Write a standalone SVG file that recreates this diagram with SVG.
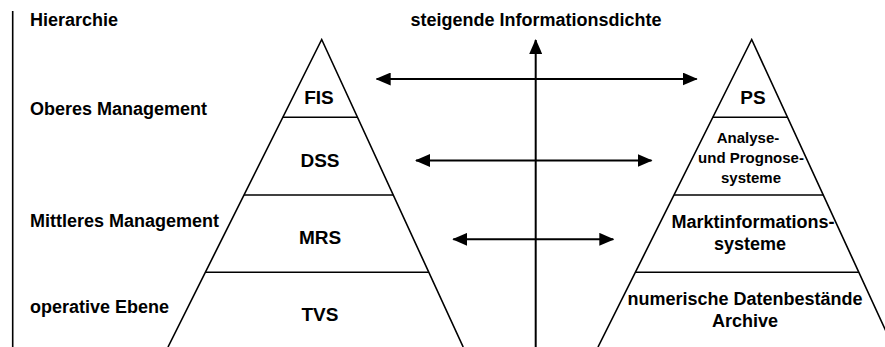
<svg xmlns="http://www.w3.org/2000/svg" width="885" height="347" viewBox="0 0 885 347">
<defs>
<style>
text{font-family:"Liberation Sans",Arial,sans-serif;font-weight:bold;font-size:18px;fill:#000}
.sm{font-size:15px}
.nd{font-size:19px}
.c{text-anchor:middle}
.ln{stroke:#000;stroke-width:1.6;fill:none}
.ar{stroke:#000;stroke-width:2;fill:none}
</style>
<marker id="ah" viewBox="0 0 15 13" markerWidth="15" markerHeight="13" markerUnits="userSpaceOnUse" refX="14" refY="6.5" orient="auto-start-reverse">
<path d="M0,0 L15,6.5 L0,13 z" fill="#000"/>
</marker>
</defs>
<rect width="885" height="347" fill="#fff"/>
<g id="axis-left">
<line class="ln" x1="12.7" y1="11" x2="12.7" y2="347"/>
<text x="30" y="26">Hierarchie</text>
<text x="30" y="115">Oberes Management</text>
<text x="30" y="227">Mittleres Management</text>
<text x="30" y="313">operative Ebene</text>
</g>
<g id="pyramid-left">
<path class="ln" d="M168,347 L321.7,39.5 L463.2,347"/>
<line class="ln" x1="282.8" y1="117.3" x2="357.5" y2="117.3"/>
<line class="ln" x1="244" y1="195" x2="393.2" y2="195"/>
<line class="ln" x1="205.3" y1="272.3" x2="429" y2="272.3"/>
</g>
<g id="FIS"><text class="c nd" x="319" y="104">FIS</text></g>
<g id="DSS"><text class="c nd" x="320" y="167">DSS</text></g>
<g id="MRS"><text class="c nd" x="320" y="244">MRS</text></g>
<g id="TVS"><text class="c nd" x="320" y="321">TVS</text></g>
<g id="pyramid-right">
<path class="ln" d="M598,347 L751.7,39.5 L893.2,347"/>
<line class="ln" x1="712.8" y1="117.3" x2="787.5" y2="117.3"/>
<line class="ln" x1="674" y1="195" x2="823.2" y2="195"/>
<line class="ln" x1="635.3" y1="272.3" x2="859" y2="272.3"/>
</g>
<g id="PS"><text class="c nd" x="753" y="104">PS</text></g>
<g id="APS">
<text class="c sm" x="748" y="143">Analyse-</text>
<text class="c sm" x="751" y="163">und Prognose-</text>
<text class="c sm" x="751" y="183">systeme</text>
</g>
<g id="MIS">
<text class="c" x="753" y="228">Marktinformations-</text>
<text class="c" x="750" y="250">systeme</text>
</g>
<g id="Daten">
<text class="c" x="745" y="305">numerische Datenbestände</text>
<text class="c" x="745" y="327">Archive</text>
</g>
<g id="density">
<text class="c" x="536" y="26">steigende Informationsdichte</text>
</g>
<g id="connectors">
<line class="ar" x1="535.7" y1="347" x2="535.7" y2="40" marker-end="url(#ah)"/>
<line class="ar" x1="376.7" y1="79" x2="696.7" y2="79" marker-start="url(#ah)" marker-end="url(#ah)"/>
<line class="ar" x1="416" y1="160.5" x2="651.5" y2="160.5" marker-start="url(#ah)" marker-end="url(#ah)"/>
<line class="ar" x1="453.3" y1="239.3" x2="613.3" y2="239.3" marker-start="url(#ah)" marker-end="url(#ah)"/>
</g>
</svg>
